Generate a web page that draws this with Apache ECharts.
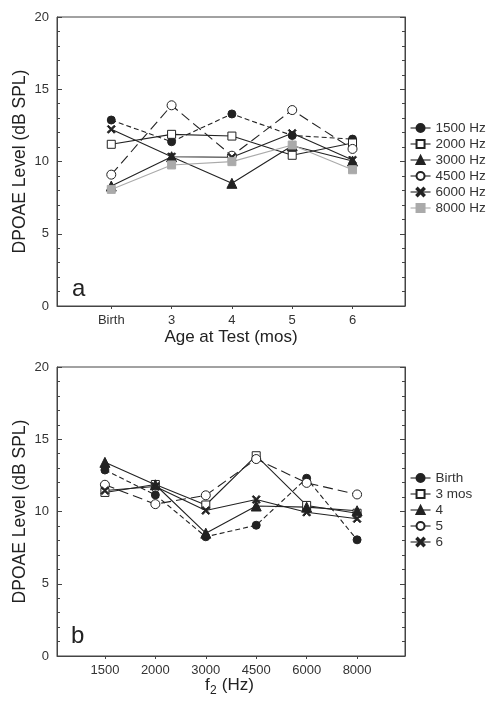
<!DOCTYPE html>
<html>
<head>
<meta charset="utf-8">
<script src="https://cdn.jsdelivr.net/npm/echarts@6/dist/echarts.min.js"></script>
<style>html,body{margin:0;padding:0;background:#fff;}#c{width:493px;height:704px;}</style>
</head>
<body>
<div id="c"></div>
<script>
// ---- Panel a data (x = age at test) ----
const ageLabels = ['Birth', '3', '4', '5', '6'];
const seriesNamesA = ['1500 Hz', '2000 Hz', '3000 Hz', '4500 Hz', '6000 Hz', '8000 Hz'];
const hz1500 = [12.87, 11.37, 13.29, 11.80, 11.55];
const hz2000 = [11.19, 11.88, 11.76, 10.43, 11.28];
const hz3000 = [8.30, 10.33, 8.49, 11.09, 10.03];
const hz4500 = [9.09, 13.89, 10.40, 13.56, 10.87];
const hz6000 = [12.23, 10.33, 10.29, 11.95, 10.10];
const hz8000 = [8.07, 9.76, 9.99, 11.14, 9.43];

// ---- Panel b data (x = f2) ----
const freqLabels = ['1500', '2000', '3000', '4500', '6000', '8000'];
const seriesNamesB = ['Birth', '3 mos', '4', '5', '6'];
const ageBirth = [12.87, 11.15, 8.25, 9.05, 12.30, 8.04];
const age3 = [11.32, 11.87, 10.45, 13.86, 10.42, 9.88];
const age4 = [13.40, 11.85, 8.50, 10.38, 10.30, 10.05];
const age5 = [11.85, 10.51, 11.12, 13.63, 11.98, 11.18];
const age6 = [11.45, 11.73, 10.07, 10.83, 9.95, 9.50];

const FONT = '"Liberation Sans", Arial, Helvetica, sans-serif';
const INK = '#222';
const AX = '#444';
const CROSS = 'path://M0,1.4L1.4,0L5,3.6L8.6,0L10,1.4L6.4,5L10,8.6L8.6,10L5,6.4L1.4,10L0,8.6L3.6,5Z';

const styles = [
  { symbol: 'circle', size: 8, color: INK, fill: INK, type: [5, 3] },
  { symbol: 'rect', size: 8, color: INK, fill: '#fff', type: 'solid' },
  { symbol: 'triangle', size: 10, color: INK, fill: INK, type: 'solid' },
  { symbol: 'circle', size: 9, color: INK, fill: '#fff', type: [10, 5] },
  { symbol: CROSS, size: 8, color: INK, fill: INK, type: 'solid' },
  { symbol: 'rect', size: 8, color: '#aaa', fill: '#aaa', type: 'solid' }
];

function mk(name, vals, st, xi, yi) {
  return {
    type: 'line', name: name, xAxisIndex: xi, yAxisIndex: yi,
    data: vals.map((v, i) => [i + 1, v]),
    symbol: st.symbol, symbolSize: st.size,
    lineStyle: { color: st.color, width: 1.1, type: st.type },
    itemStyle: { color: st.fill, borderColor: st.color, borderWidth: 1 },
    emphasis: { disabled: true },
    animation: false
  };
}

function yAxes(gi) {
  const common = {
    type: 'value', gridIndex: gi, min: 0, max: 20, interval: 5,
    axisLine: { show: true, lineStyle: { color: AX, width: 1 } },
    axisTick: { show: true, inside: true, length: 5, lineStyle: { color: AX, width: 1 } },
    minorTick: { show: true, splitNumber: 5, length: 3, lineStyle: { color: AX, width: 1 } },
    splitLine: { show: false }
  };
  return [
    Object.assign({}, common, {
      position: 'left',
      axisLabel: { color: '#333', fontSize: 13, fontFamily: FONT, margin: 8 },
      name: 'DPOAE Level (dB SPL)', nameLocation: 'middle', nameGap: 28,
      nameMoveOverlap: false,
      nameTextStyle: { color: INK, fontSize: 17.5, fontFamily: FONT }
    }),
    Object.assign({}, common, { position: 'right', axisLabel: { show: false } })
  ];
}

function xAxis(gi, labels, min, max, name) {
  const vals = labels.map((_, i) => i + 1);
  const ax = {
    type: 'value', gridIndex: gi, min: min, max: max,
    axisLine: { show: true, lineStyle: { color: AX, width: 1 } },
    axisTick: { show: true, inside: false, length: 3, customValues: vals, lineStyle: { color: AX } },
    axisLabel: {
      customValues: vals, color: '#333', fontSize: 13, fontFamily: FONT, margin: 8,
      formatter: v => labels[Math.round(v) - 1] || ''
    },
    splitLine: { show: false }
  };
  if (name) {
    ax.name = name; ax.nameLocation = 'middle'; ax.nameGap = 23;
    ax.nameMoveOverlap = false;
    ax.nameTextStyle = { color: INK, fontSize: 17, fontFamily: FONT };
  }
  return ax;
}

const sA = [hz1500, hz2000, hz3000, hz4500, hz6000, hz8000];
const sB = [ageBirth, age3, age4, age5, age6];

const series = [];
sA.forEach((v, i) => series.push(mk(seriesNamesA[i], v, styles[i], 0, 0)));
sB.forEach((v, i) => series.push(mk(seriesNamesB[i], v, styles[i], 1, 2)));

function legend(names, top) {
  return {
    data: names, orient: 'vertical', left: 410, top: top,
    itemWidth: 20, itemHeight: 10, itemGap: 0,
    lineStyle: { type: 'solid', width: 1.1 },
    textStyle: { color: '#333', fontSize: 13.5, fontFamily: FONT, lineHeight: 16 },
    selectedMode: false, padding: 0
  };
}

const chart = echarts.init(document.getElementById('c'), null, { renderer: 'canvas' });
chart.setOption({
  backgroundColor: '#fff',
  animation: false,
  grid: [
    { left: 57, right: 88, top: 17, height: 289, show: true, borderColor: AX, borderWidth: 1, backgroundColor: 'transparent' },
    { left: 57, right: 88, top: 367, height: 289, show: true, borderColor: AX, borderWidth: 1, backgroundColor: 'transparent' }
  ],
  xAxis: [
    xAxis(0, ageLabels, 0.1, 5.87, 'Age at Test (mos)'),
    xAxis(1, freqLabels, 0.05, 6.95, null)
  ],
  yAxis: yAxes(0).concat(yAxes(1)),
  legend: [legend(seriesNamesA, 120), legend(seriesNamesB, 470)],
  series: series,
  graphic: [
    { type: 'text', left: 72, top: 277, style: { text: 'a', fontSize: 24, fontFamily: FONT, fill: INK } },
    { type: 'text', left: 71, top: 624, style: { text: 'b', fontSize: 24, fontFamily: FONT, fill: INK } },
    { type: 'text', left: 205, top: 677, style: { text: 'f', fontSize: 17, fontFamily: FONT, fill: INK } },
    { type: 'text', left: 210, top: 685, style: { text: '2', fontSize: 12, fontFamily: FONT, fill: INK } },
    { type: 'text', left: 217, top: 677, style: { text: ' (Hz)', fontSize: 17, fontFamily: FONT, fill: INK } }
  ]
});
</script>
</body>
</html>
